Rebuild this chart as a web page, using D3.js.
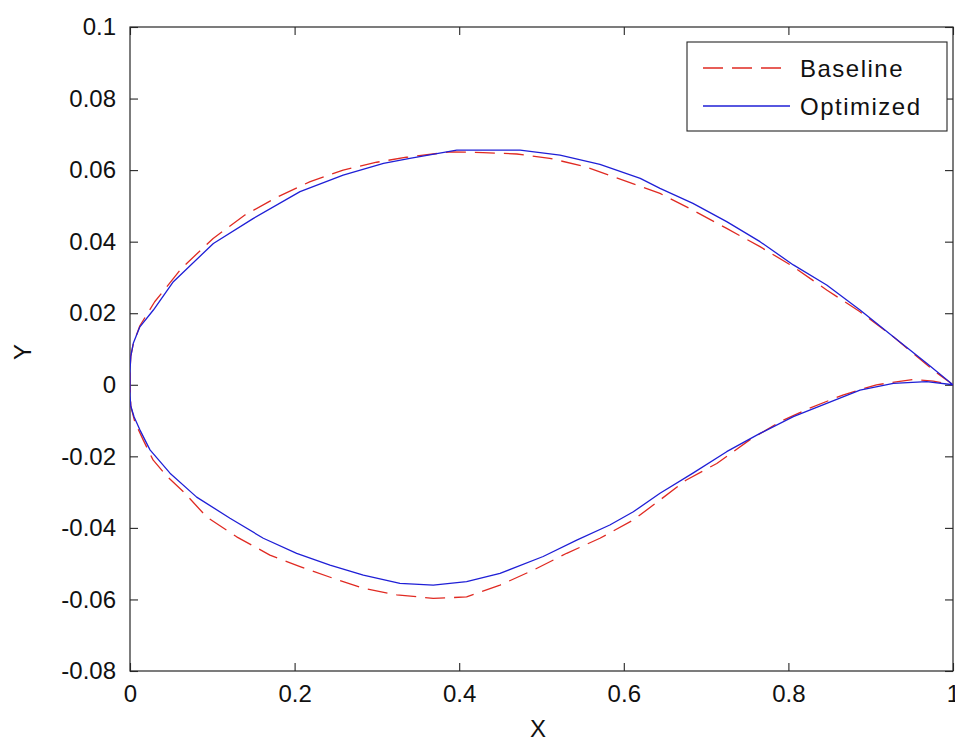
<!DOCTYPE html>
<html>
<head>
<meta charset="utf-8">
<script src="https://cdn.jsdelivr.net/npm/d3@7"></script>
<style>
  html, body { margin: 0; padding: 0; background: #fff; }
  svg { display: block; font-family: "Liberation Sans", Arial, sans-serif; }
</style>
</head>
<body>
<svg id="chart" width="955" height="742"></svg>
<script>
// ---- Data ----
const seriesNames = ["Baseline", "Optimized"];

const baselineX = [1, 0.976, 0.9275, 0.887, 0.8465, 0.806, 0.7655, 0.725, 0.684, 0.644, 0.587, 0.551, 0.51, 0.47, 0.429, 0.389, 0.336, 0.2997, 0.259, 0.219, 0.18, 0.14, 0.101, 0.0628, 0.03, 0.012, 0.004, 0.001, 0, 0, 0.001, 0.006, 0.016, 0.028, 0.0446, 0.065, 0.093, 0.1296, 0.17, 0.2066, 0.247, 0.2835, 0.324, 0.3685, 0.409, 0.4496, 0.49, 0.5306, 0.571, 0.6116, 0.644, 0.676, 0.713, 0.753, 0.79, 0.826, 0.867, 0.907, 0.952, 0.976, 1];
const baselineY = [0, 0.0041, 0.0134, 0.0204, 0.0265, 0.033, 0.0386, 0.0437, 0.0488, 0.0535, 0.0582, 0.0611, 0.0633, 0.0645, 0.0649, 0.0651, 0.0636, 0.0622, 0.06, 0.0568, 0.0526, 0.0475, 0.0409, 0.0326, 0.0232, 0.0165, 0.0115, 0.008, 0.004, 0, -0.006, -0.0105, -0.0154, -0.021, -0.0255, -0.0299, -0.0369, -0.0425, -0.0476, -0.0508, -0.0541, -0.0569, -0.0587, -0.0597, -0.0593, -0.056, -0.0518, -0.0471, -0.0429, -0.0378, -0.0322, -0.0266, -0.022, -0.0154, -0.0103, -0.0065, -0.0028, 0, 0.0015, 0.001, 0];

const optimizedX = [1, 0.968, 0.9275, 0.887, 0.8465, 0.806, 0.7655, 0.725, 0.684, 0.644, 0.62, 0.571, 0.5225, 0.474, 0.397, 0.34, 0.308, 0.259, 0.2066, 0.15, 0.1013, 0.0527, 0.0284, 0.012, 0.004, 0.001, 0, 0, 0, 0.001, 0.005, 0.012, 0.0243, 0.0486, 0.081, 0.1215, 0.162, 0.2025, 0.243, 0.2835, 0.328, 0.3685, 0.409, 0.4496, 0.502, 0.5428, 0.583, 0.6116, 0.644, 0.684, 0.725, 0.7655, 0.806, 0.8465, 0.887, 0.9275, 0.968, 1];
const optimizedY = [0, 0.006, 0.0134, 0.0209, 0.0279, 0.0335, 0.04, 0.0456, 0.0507, 0.0549, 0.0577, 0.0616, 0.0642, 0.0656, 0.0656, 0.0633, 0.0619, 0.0586, 0.054, 0.0465, 0.0395, 0.0288, 0.0209, 0.0162, 0.0116, 0.008, 0.004, 0, -0.003, -0.006, -0.009, -0.0126, -0.0182, -0.0247, -0.0314, -0.0373, -0.0429, -0.0471, -0.0504, -0.0532, -0.0555, -0.056, -0.055, -0.0527, -0.048, -0.0434, -0.0392, -0.0355, -0.0303, -0.0247, -0.0187, -0.0136, -0.0089, -0.0052, -0.0015, 0.0004, 0.0009, 0];

const xTicks = [0, 0.2, 0.4, 0.6, 0.8, 1];
const yTicks = [0.1, 0.08, 0.06, 0.04, 0.02, 0, -0.02, -0.04, -0.06, -0.08];
const xTickLabels = ["0", "0.2", "0.4", "0.6", "0.8", "1"];
const yTickLabels = ["0.1", "0.08", "0.06", "0.04", "0.02", "0", "-0.02", "-0.04", "-0.06", "-0.08"];

// ---- Layout ----
const svg = d3.select("#chart");
const L = 130, R = 953, T = 27, B = 671;
const x = d3.scaleLinear().domain([0, 1]).range([L, R]);
const y = d3.scaleLinear().domain([-0.08, 0.1]).range([B, T]);
const tickLen = 8;
const fontSize = 24;

// Frame
svg.append("rect").attr("x", L).attr("y", T).attr("width", R - L).attr("height", B - T)
  .attr("fill", "#fff").attr("stroke", "#262626").attr("stroke-width", 1.2);

// Axes with inward ticks
const axB = d3.axisBottom(x).tickValues(xTicks).tickSizeInner(-tickLen).tickSizeOuter(0)
  .tickPadding(tickLen + 6).tickFormat((d, i) => xTickLabels[i]);
const axL = d3.axisLeft(y).tickValues(yTicks).tickSizeInner(-tickLen).tickSizeOuter(0)
  .tickPadding(tickLen + 6).tickFormat((d, i) => yTickLabels[i]);
const axT = d3.axisTop(x).tickValues(xTicks).tickSizeInner(-tickLen).tickSizeOuter(0).tickFormat("");
const axR = d3.axisRight(y).tickValues(yTicks).tickSizeInner(-tickLen).tickSizeOuter(0).tickFormat("");

function styleAxis(g) {
  g.select(".domain").remove();
  g.selectAll(".tick line").attr("stroke", "#262626").attr("stroke-width", 1.1);
  g.selectAll(".tick text").attr("fill", "#111").style("font-size", fontSize + "px")
    .style("font-family", "'Liberation Sans', Arial, sans-serif");
}
svg.append("g").attr("transform", `translate(0,${B})`).call(axB).call(styleAxis);
svg.append("g").attr("transform", `translate(${L},0)`).call(axL).call(styleAxis);
svg.append("g").attr("transform", `translate(0,${T})`).call(axT).call(styleAxis);
svg.append("g").attr("transform", `translate(${R},0)`).call(axR).call(styleAxis);

// Axis labels
svg.append("text").attr("x", 538).attr("y", 737).attr("text-anchor", "middle")
  .style("font-size", "24px").attr("fill", "#111").text("X");
svg.append("text").attr("transform", `translate(31,352) rotate(-90)`)
  .attr("text-anchor", "middle").style("font-size", "24px").attr("fill", "#111").text("Y");

// Lines
const line = d3.line().x(d => x(d[0])).y(d => y(d[1]));
const baseData = baselineX.map((v, i) => [v, baselineY[i]]);
const optData = optimizedX.map((v, i) => [v, optimizedY[i]]);
const styles = [
  { color: "#e02a22", dash: "20,9", width: 1.3 },
  { color: "#1f1fd6", dash: null, width: 1.3 }
];
svg.append("clipPath").attr("id", "clip").append("rect")
  .attr("x", L).attr("y", T).attr("width", R - L).attr("height", B - T);
const plot = svg.append("g").attr("clip-path", "url(#clip)");
[baseData, optData].forEach((data, i) => {
  plot.append("path").datum(data).attr("d", line).attr("fill", "none")
    .attr("stroke", styles[i].color).attr("stroke-width", styles[i].width)
    .attr("stroke-dasharray", styles[i].dash).attr("stroke-linejoin", "round");
});

// Legend
const lg = svg.append("g");
lg.append("rect").attr("x", 687).attr("y", 42).attr("width", 260).attr("height", 89)
  .attr("fill", "#fff").attr("stroke", "#262626").attr("stroke-width", 1.1);
const rowsY = [68, 106];
seriesNames.forEach((name, i) => {
  lg.append("line").attr("x1", 703).attr("x2", 790).attr("y1", rowsY[i]).attr("y2", rowsY[i])
    .attr("stroke", styles[i].color).attr("stroke-width", styles[i].width)
    .attr("stroke-dasharray", styles[i].dash ? "20,9" : null);
  lg.append("text").attr("x", 800).attr("y", rowsY[i]).attr("dy", "0.36em")
    .style("font-size", fontSize + "px").style("letter-spacing", "1.5px")
    .attr("fill", "#111").text(name);
});
</script>
</body>
</html>
